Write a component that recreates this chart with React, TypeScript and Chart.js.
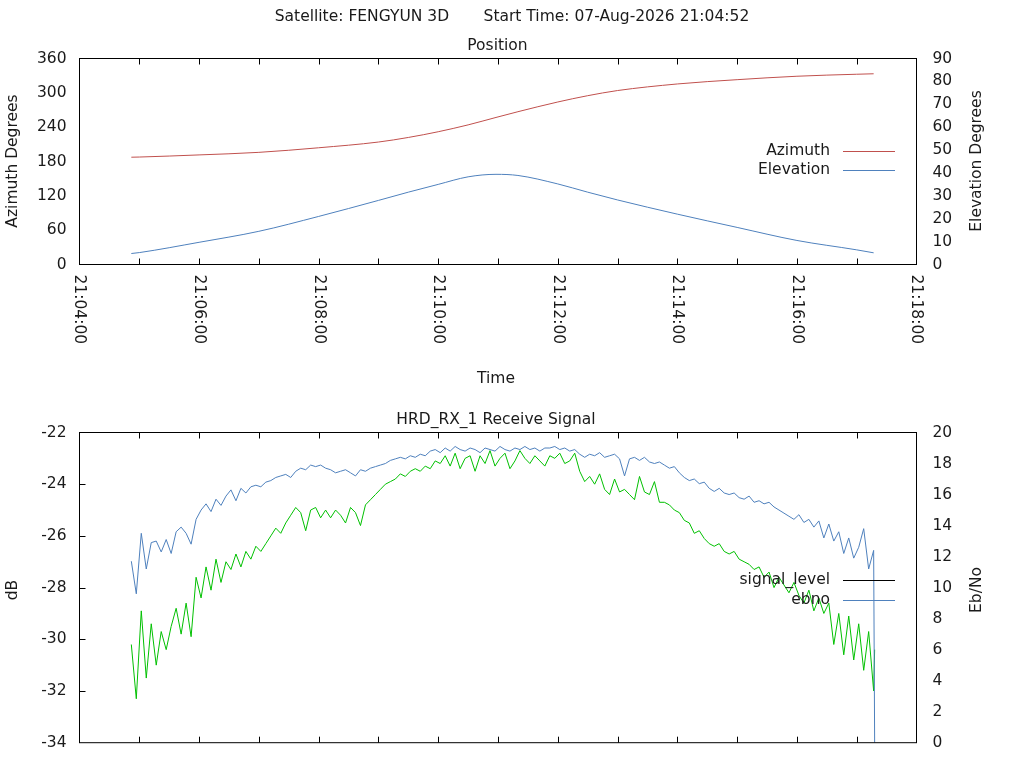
import React, { useEffect, useRef } from "react";
import { Chart, registerables } from "chart.js";

Chart.register(...registerables);

const FONT = "DejaVu Sans";
const FONT_SIZE = 15.5;
const TEXT_COLOR = "#1a1a1a";
const RED = "#c0504d";
const BLUE = "#4f81bd";
const GREEN = "#00c000";
const TICK_LEN = 6;

const mainTitle = "Satellite: FENGYUN 3D       Start Time: 07-Aug-2026 21:04:52";

// time axis is seconds after 21:04:00
const timeAxisMax = 840;
const minorStep = 60;
const timeLabels = [
  "21:04:00", "21:06:00", "21:08:00", "21:10:00",
  "21:12:00", "21:14:00", "21:16:00", "21:18:00",
];

// position plot
const passTimes = [52, 60, 120, 180, 240, 300, 330, 360, 390, 418, 440, 480, 510, 540, 600, 660, 720, 780, 797];
const azimuthDeg = [187.5, 187.8, 191.5, 196, 204, 214, 222, 232, 244, 257, 267, 284, 295, 304, 315.5, 323, 329, 332.5, 333.3];
const elevationDeg = [4.8, 5.2, 9.7, 14.5, 21.0, 28.0, 31.6, 35.0, 38.3, 39.4, 38.9, 35.2, 31.6, 28.2, 22.0, 16.2, 10.5, 6.4, 5.1];

// receive signal plot, one sample every 5 s from 21:04:52
const signalStart = 52;
const signalStep = 5;
const ebnoValues = [
  11.7, 9.6, 13.5, 11.2, 12.9, 13.0, 12.3, 13.1, 12.2, 13.6,
  13.9, 13.5, 12.8, 14.4, 15.0, 15.4, 14.9, 15.7, 15.3, 15.9,
  16.3, 15.6, 16.4, 16.1, 16.5, 16.6, 16.5, 16.8, 16.9, 17.1,
  17.2, 17.3, 17.1, 17.5, 17.7, 17.6, 17.9, 17.8, 17.9, 17.7,
  17.6, 17.4, 17.5, 17.6, 17.4, 17.2, 17.6, 17.5, 17.7, 17.8,
  17.9, 18.0, 18.2, 18.3, 18.4, 18.3, 18.5, 18.4, 18.6, 18.5,
  18.8, 18.9, 18.7, 19.0, 18.8, 19.1, 18.9, 18.8, 19.0, 18.9,
  18.7, 19.0, 18.9, 18.8, 19.1, 18.9, 18.8, 19.0, 18.9, 19.1,
  18.9, 19.0, 18.8, 19.0, 19.0, 19.1, 18.9, 19.0, 18.8, 18.9,
  18.6, 18.4, 18.6, 18.5, 18.7, 18.4, 18.5, 18.6, 18.3, 17.2,
  18.3, 18.4, 18.2, 18.4, 18.1, 18.0, 18.1, 17.9, 17.7, 17.8,
  17.4, 17.1, 16.9, 17.0, 16.7, 16.8, 16.4, 16.2, 16.4, 16.1,
  16.0, 16.1, 15.8, 15.7, 15.9, 15.5, 15.6, 15.4, 15.5, 15.2,
  15.0, 14.8, 14.6, 14.4, 14.7, 14.2, 14.4, 13.9, 14.3, 13.2,
  14.1, 13.0, 13.6, 12.2, 13.2, 11.9, 12.6, 13.8, 11.2, 12.4,
];
const ebnoLossValue = 0;
const receiveDb = [
  -30.2, -32.3, -28.9, -31.5, -29.4, -31.0, -29.7, -30.4, -29.5, -28.8,
  -29.8, -28.6, -29.9, -27.6, -28.4, -27.2, -28.1, -26.9, -27.8, -27.0,
  -27.3, -26.7, -27.2, -26.6, -26.9, -26.4, -26.6, -26.3, -26.0, -25.7,
  -25.9, -25.5, -25.2, -24.9, -25.1, -25.8, -25.0, -24.9, -25.3, -25.0,
  -25.3, -25.0, -25.2, -25.5, -24.9, -25.1, -25.6, -24.8, -24.6, -24.4,
  -24.2, -24.0, -23.9, -23.8, -23.6, -23.7, -23.5, -23.4, -23.5, -23.3,
  -23.4, -23.1, -23.2, -22.9, -23.3, -22.8, -23.4, -23.0, -22.9, -23.5,
  -22.9, -23.2, -22.7, -23.3, -23.0, -22.8, -23.4, -23.1, -22.7, -23.0,
  -23.2, -22.9, -23.1, -23.3, -22.9, -23.0, -22.8, -23.2, -23.1, -22.8,
  -23.5, -23.9, -23.7, -24.0, -23.6, -24.2, -24.4, -23.8, -24.3, -24.2,
  -24.4, -24.6, -23.7, -24.3, -24.4, -23.9, -24.7, -24.7, -24.8, -25.0,
  -25.1, -25.4, -25.5, -25.9, -25.8, -26.1, -26.3, -26.4, -26.3, -26.6,
  -26.7, -26.6, -26.9, -27.0, -27.1, -27.3, -27.2, -27.6, -27.4, -28.0,
  -27.6, -27.9, -28.2, -27.8, -28.3, -28.6, -28.1, -28.9, -28.4, -29.0,
  -28.6, -30.2, -29.0, -30.6, -29.1, -30.8, -29.4, -31.2, -29.7, -32.0,
];
const receiveLastDb = -30.4;

interface TextItem {
  text: string;
  x: number;
  y: number;
  rotate?: boolean;
}

interface FrameOptions {
  texts: TextItem[];
  legendY: number;
  xLabels: boolean;
  leftTicks: boolean;
}

const font = () => `${FONT_SIZE}px "${FONT}"`;

// gnuplot-like border, inward ticks, texts and key
const framePlugin = {
  id: "gnuplotFrame",
  afterDatasetsDraw(chart: any, _args: any, opts: FrameOptions) {
    const { ctx, chartArea: area } = chart;
    const xScale = chart.scales.x;
    ctx.save();
    ctx.strokeStyle = "#000";
    ctx.lineWidth = 1;
    ctx.strokeRect(area.left, area.top, area.right - area.left, area.bottom - area.top);

    ctx.beginPath();
    for (let t = minorStep; t < timeAxisMax; t += minorStep) {
      const x = Math.round(xScale.getPixelForValue(t)) + 0.5;
      ctx.moveTo(x, area.bottom);
      ctx.lineTo(x, area.bottom - TICK_LEN);
      ctx.moveTo(x, area.top);
      ctx.lineTo(x, area.top + TICK_LEN);
    }
    if (opts.leftTicks) {
      const yScale = chart.scales.y;
      yScale.ticks.slice(1, -1).forEach((tk: any) => {
        const y = Math.round(yScale.getPixelForValue(tk.value)) + 0.5;
        ctx.moveTo(area.left, y);
        ctx.lineTo(area.left + TICK_LEN, y);
      });
    }
    ctx.stroke();

    ctx.font = font();
    ctx.fillStyle = TEXT_COLOR;
    ctx.textBaseline = "middle";

    if (opts.xLabels) {
      timeLabels.forEach((label, i) => {
        const x = xScale.getPixelForValue(i * 120);
        ctx.save();
        ctx.translate(x, area.bottom + 10);
        ctx.rotate(Math.PI / 2);
        ctx.textAlign = "left";
        ctx.fillText(label, 0, 0);
        ctx.restore();
      });
    }

    opts.texts.forEach((item) => {
      ctx.save();
      ctx.translate(item.x, item.y);
      if (item.rotate) ctx.rotate(-Math.PI / 2);
      ctx.textAlign = "center";
      ctx.fillText(item.text, 0, 0);
      ctx.restore();
    });

    // key
    const entries = chart.data.datasets.filter((ds: any) => ds.label);
    entries.forEach((ds: any, i: number) => {
      const y = opts.legendY + i * 19.5;
      ctx.textAlign = "right";
      ctx.fillStyle = TEXT_COLOR;
      ctx.fillText(ds.label, 830, y);
      ctx.strokeStyle = ds.borderColor;
      ctx.beginPath();
      const ly = Math.round(y) + 0.5;
      ctx.moveTo(843, ly);
      ctx.lineTo(895, ly);
      ctx.stroke();
    });
    ctx.restore();
  },
};

const tickFont = { family: FONT, size: FONT_SIZE };

const timeScale = (height: number) => ({
  type: "linear" as const,
  min: 0,
  max: timeAxisMax,
  grid: { display: false, drawTicks: false },
  border: { display: false },
  ticks: { display: false, stepSize: minorStep },
  afterFit: (s: any) => {
    s.height = height;
  },
});

const valueScale = (
  position: "left" | "right",
  min: number,
  max: number,
  step: number,
  width: number
) => ({
  type: "linear" as const,
  position,
  min,
  max,
  grid: { display: false, drawTicks: false },
  border: { display: false },
  ticks: {
    stepSize: step,
    autoSkip: false,
    padding: position === "left" ? 13 : 16,
    font: tickFont,
    color: TEXT_COLOR,
  },
  afterFit: (s: any) => {
    s.width = width;
  },
});

const lineStyle = { borderWidth: 1, pointRadius: 0, fill: false };

const PositionChart: React.FC = () => {
  const canvasRef = useRef<HTMLCanvasElement | null>(null);

  useEffect(() => {
    if (!canvasRef.current) return;
    const chart = new Chart(canvasRef.current, {
      type: "line",
      data: {
        datasets: [
          {
            label: "Azimuth",
            data: passTimes.map((t, i) => ({ x: t, y: azimuthDeg[i] })),
            borderColor: RED,
            yAxisID: "y",
            cubicInterpolationMode: "monotone",
            ...lineStyle,
          },
          {
            label: "Elevation",
            data: passTimes.map((t, i) => ({ x: t, y: elevationDeg[i] })),
            borderColor: BLUE,
            yAxisID: "y1",
            cubicInterpolationMode: "monotone",
            ...lineStyle,
          },
        ],
      },
      options: {
        responsive: false,
        animation: false,
        layout: { padding: { top: 58.5, left: 0, right: 0, bottom: 0 } },
        scales: {
          x: timeScale(135.5),
          y: valueScale("left", 0, 360, 60, 79.5),
          y1: valueScale("right", 0, 90, 10, 107.5),
        },
        plugins: {
          legend: { display: false },
          tooltip: { enabled: false },
          gnuplotFrame: {
            texts: [
              { text: mainTitle, x: 512, y: 17 },
              { text: "Position", x: 497.5, y: 46 },
              { text: "Azimuth Degrees", x: 13, y: 161, rotate: true },
              { text: "Elevation Degrees", x: 977, y: 161, rotate: true },
              { text: "Time", x: 496, y: 379 },
            ],
            legendY: 150.5,
            xLabels: true,
            leftTicks: false,
          },
        } as any,
      },
      plugins: [framePlugin],
    } as any);
    return () => chart.destroy();
  }, []);

  return <canvas ref={canvasRef} width={1024} height={400} style={{ display: "block" }} />;
};

const SignalChart: React.FC = () => {
  const canvasRef = useRef<HTMLCanvasElement | null>(null);

  useEffect(() => {
    if (!canvasRef.current) return;
    const times = ebnoValues.map((_, i) => signalStart + i * signalStep);
    const endTime = times[times.length - 1] + 1;
    const chart = new Chart(canvasRef.current, {
      type: "line",
      data: {
        datasets: [
          {
            label: "signal_level",
            data: [],
            borderColor: "#000",
            yAxisID: "y",
            ...lineStyle,
          },
          {
            label: "ebno",
            data: [
              ...times.map((t, i) => ({ x: t, y: ebnoValues[i] })),
              { x: endTime, y: ebnoLossValue },
            ],
            borderColor: BLUE,
            yAxisID: "y1",
            ...lineStyle,
          },
          {
            label: "",
            data: [
              ...times.map((t, i) => ({ x: t, y: receiveDb[i] })),
              { x: endTime, y: receiveLastDb },
            ],
            borderColor: GREEN,
            yAxisID: "y",
            ...lineStyle,
          },
        ],
      },
      options: {
        responsive: false,
        animation: false,
        layout: { padding: { top: 32.5, left: 0, right: 0, bottom: 0 } },
        scales: {
          x: timeScale(19.5),
          y: valueScale("left", -34, -22, 2, 79.5),
          y1: valueScale("right", 0, 20, 2, 107.5),
        },
        plugins: {
          legend: { display: false },
          tooltip: { enabled: false },
          gnuplotFrame: {
            texts: [
              { text: "HRD_RX_1 Receive Signal", x: 496, y: 20 },
              { text: "dB", x: 13, y: 190, rotate: true },
              { text: "Eb/No", x: 977, y: 190, rotate: true },
            ],
            legendY: 180,
            xLabels: false,
            leftTicks: true,
          },
        } as any,
      },
      plugins: [framePlugin],
    } as any);
    return () => chart.destroy();
  }, []);

  return <canvas ref={canvasRef} width={1024} height={368} style={{ display: "block" }} />;
};

export default function App() {
  return (
    <div
      style={{
        position: "fixed",
        left: 0,
        top: 0,
        width: 1024,
        height: 768,
        overflow: "hidden",
        background: "#fff",
      }}
    >
      <PositionChart />
      <SignalChart />
    </div>
  );
}
